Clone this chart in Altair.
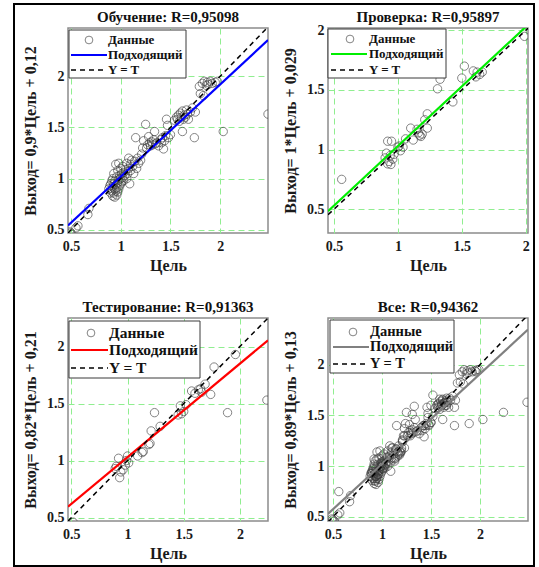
import altair as alt
import pandas as pd

# ---------------- data ----------------
train_t = [0.49, 0.50, 0.55, 0.57, 0.67, 0.68,
           0.88, 0.89, 0.90, 0.90, 0.91, 0.91, 0.92, 0.92, 0.92, 0.93, 0.93, 0.93, 0.94, 0.94,
           0.94, 0.95, 0.95, 0.95, 0.96, 0.96, 0.96, 0.97, 0.97, 0.97, 0.98, 0.98, 0.98, 0.99,
           0.99, 1.00, 1.00, 1.00, 1.01, 1.01, 1.02, 1.02, 1.03, 1.03, 1.04, 1.05,
           1.06, 1.06, 1.07, 1.08, 1.08, 1.09, 1.10, 1.10, 1.11, 1.12, 1.13, 1.14, 1.15, 1.16,
           1.17, 1.18, 1.20, 1.21, 1.22, 1.23,
           1.25, 1.26, 1.27, 1.28, 1.29, 1.30, 1.31, 1.32, 1.33, 1.34, 1.35, 1.36, 1.38, 1.40,
           1.41, 1.42, 1.43, 1.44, 1.45, 1.46, 1.47, 1.48, 1.50,
           1.54, 1.56, 1.57, 1.58, 1.59, 1.60, 1.61, 1.62, 1.62, 1.63, 1.64, 1.65, 1.66, 1.67,
           1.68, 1.70, 1.72, 1.74, 1.75,
           1.79, 1.80, 1.82, 1.83, 1.84, 1.86, 1.87, 1.88, 1.90, 1.92, 1.95, 1.97,
           2.03, 2.48]
train_y = [0.48, 0.47, 0.52, 0.54, 0.65, 0.71,
           0.90, 0.93, 0.86, 0.95, 0.88, 0.98, 0.83, 0.92, 1.00, 0.86, 0.95, 1.05, 0.82, 0.90,
           0.98, 0.88, 0.94, 1.14, 0.84, 0.91, 1.02, 0.87, 0.96, 1.08, 0.90, 0.99, 1.15, 0.93,
           1.03, 0.95, 1.00, 1.10, 0.97, 1.05, 1.01, 1.12, 0.98, 1.06, 1.03, 1.09,
           1.00, 1.15, 1.05, 1.10, 1.20, 0.95, 1.08, 1.14, 1.18, 1.12, 1.05, 1.17, 1.40, 1.10,
           1.20, 1.15, 1.18, 1.24, 1.30, 1.37,
           1.53, 1.30, 1.33, 1.41, 1.35, 1.32, 1.36, 1.33, 1.38, 1.46, 1.34, 1.35, 1.32, 1.38,
           1.35, 1.40, 1.29, 1.37, 1.42, 1.58, 1.52, 1.40, 1.43,
           1.57, 1.60, 1.58, 1.62, 1.56, 1.64, 1.60, 1.46, 1.66, 1.58, 1.62, 1.60, 1.67, 1.63,
           1.58, 1.65, 1.69, 1.40, 1.65,
           1.90, 1.83, 1.93, 1.81, 1.95, 1.91, 1.94, 1.92, 1.95, 1.93, 1.94, 1.95,
           1.46, 1.63]

val_t = [0.56, 0.90, 0.91, 0.92, 0.92, 0.93, 0.94, 0.945, 0.95, 0.96, 0.97, 1.00, 1.01, 1.02,
         1.04, 1.06, 1.10, 1.12, 1.15, 1.16, 1.17, 1.18, 1.19, 1.21, 1.23, 1.23, 1.31, 1.33,
         1.43, 1.50, 1.52, 1.59, 1.61, 1.62, 1.64, 1.66, 1.99]
val_y = [0.75, 0.93, 0.97, 1.07, 0.88, 0.90, 0.95, 0.875, 1.07, 0.92, 0.96, 1.02, 1.03, 0.99,
         1.02, 1.09, 1.18, 1.08, 1.17, 1.14, 1.12, 1.11, 1.13, 1.25, 1.30, 1.18, 1.51, 1.59,
         1.40, 1.60, 1.70, 1.66, 1.61, 1.65, 1.63, 1.65, 1.95]

test_t = [0.515, 0.89, 0.90, 0.92, 0.93, 0.94, 0.96, 0.98, 0.99, 1.00, 1.01, 1.09, 1.13, 1.14,
          1.19, 1.20, 1.21, 1.24, 1.29, 1.45, 1.47, 1.48, 1.50, 1.52, 1.57, 1.60, 1.63, 1.65,
          1.66, 1.69, 1.74, 1.77, 1.89, 1.96, 2.24]
test_y = [0.46, 0.93, 0.95, 1.02, 0.85, 0.90, 0.92, 0.96, 1.00, 1.04, 0.98, 1.04, 1.07, 1.08,
          1.14, 1.15, 1.26, 1.42, 1.30, 1.40, 1.48, 1.41, 1.43, 1.49, 1.61, 1.59, 1.62, 1.63,
          1.60, 1.67, 1.58, 1.82, 1.42, 1.93, 1.53]

all_t = train_t + val_t + test_t
all_y = train_y + val_y + test_y

TITLES = ["Обучение: R=0,95098", "Проверка: R=0,95897",
          "Тестирование: R=0,91363", "Все: R=0,94362"]
Y_TITLES = ["Выход= 0,9*Цель + 0,12", "Выход= 1*Цель + 0,029",
            "Выход= 0,82*Цель + 0,21", "Выход= 0,89*Цель + 0,13"]
X_TITLE = "Цель"
FIT_SLOPE = [0.9, 1.0, 0.82, 0.89]
FIT_INTERCEPT = [0.12, 0.029, 0.21, 0.13]
FIT_COLORS = ["#0000ff", "#00ee00", "#ff0000", "#808080"]
X_DOMAINS = [[0.47, 2.48], [0.453, 2.018], [0.47, 2.25], [0.45, 2.49]]
Y_DOMAINS = [[0.47, 2.47], [0.30, 2.02], [0.47, 2.25], [0.46, 2.46]]
TICKS = [0.5, 1, 1.5, 2]
LEGEND_LABELS = ["Данные", "Подходящий", "Y = T"]

FONT = "Liberation Serif"
ONE = alt.Data(values=[{"k": 0}])

# legend geometry per panel: box (x0, x1, y0, y1), row ys, symbol x, line x0/x1, text x, font size
LEG = [
    dict(box=(1, 118, 2, 50), rows=(12, 27, 42), sx=21, lx=(3, 39), tx=40, fs=13),
    dict(box=(0, 118, 1, 50), rows=(11, 26, 42), sx=22, lx=(3, 39), tx=41, fs=13),
    dict(box=(1, 132, 3, 60), rows=(15, 32, 50), sx=23, lx=(3, 40), tx=41, fs=15.5),
    dict(box=(2, 126, 2, 55), rows=(14, 29, 46), sx=25, lx=(5, 41), tx=42, fs=14.5),
]


def panel(i, t, y, w, h, frame=False):
    xsc = alt.Scale(domain=X_DOMAINS[i], nice=False, zero=False)
    ysc = alt.Scale(domain=Y_DOMAINS[i], nice=False, zero=False)
    xax = alt.Axis(values=TICKS, format="~g", title=X_TITLE, grid=True)
    yax = alt.Axis(values=TICKS, format="~g", title=Y_TITLES[i], grid=True)
    pts = pd.DataFrame({"t": t, "y": y})
    xs = X_DOMAINS[i]
    lines = pd.DataFrame({"t": xs,
                          "fit": [FIT_SLOPE[i] * v + FIT_INTERCEPT[i] for v in xs],
                          "yt": xs})
    points = alt.Chart(pts).mark_point(shape="circle", filled=False, size=70,
                                       color="#3c3c3c", strokeWidth=0.9,
                                       clip=True).encode(
        x=alt.X("t:Q", scale=xsc, axis=xax),
        y=alt.Y("y:Q", scale=ysc, axis=yax))
    fit = alt.Chart(lines).mark_line(color=FIT_COLORS[i], strokeWidth=2.2, clip=True).encode(
        x=alt.X("t:Q", scale=xsc, axis=xax),
        y=alt.Y("fit:Q", scale=ysc, axis=yax))
    ident = alt.Chart(lines).mark_line(color="black", strokeDash=[5, 4], strokeWidth=1.5,
                                       clip=True).encode(
        x=alt.X("t:Q", scale=xsc, axis=xax),
        y=alt.Y("yt:Q", scale=ysc, axis=yax))

    g = LEG[i]
    x0, x1, y0, y1 = g["box"]
    r = g["rows"]
    box = alt.Chart(ONE).mark_rect(fill="white", stroke="#3a3a3a", strokeWidth=1).encode(
        x=alt.value(x0), x2=alt.value(x1), y=alt.value(y0), y2=alt.value(y1))
    sym = alt.Chart(ONE).mark_point(shape="circle", filled=False, size=60, color="#3c3c3c",
                                    strokeWidth=0.9).encode(
        x=alt.value(g["sx"]), y=alt.value(r[0]))
    lfit = alt.Chart(ONE).mark_rule(color=FIT_COLORS[i], strokeWidth=2.2).encode(
        x=alt.value(g["lx"][0]), x2=alt.value(g["lx"][1]), y=alt.value(r[1]))
    lid = alt.Chart(ONE).mark_rule(color="black", strokeWidth=1.5, strokeDash=[5, 4]).encode(
        x=alt.value(g["lx"][0]), x2=alt.value(g["lx"][1]), y=alt.value(r[2]))
    texts = [alt.Chart(ONE).mark_text(text=LEGEND_LABELS[k], font=FONT, fontWeight="bold",
                                      fontSize=g["fs"], align="left", baseline="middle",
                                      color="#111111").encode(
        x=alt.value(g["tx"]), y=alt.value(r[k])) for k in range(3)]
    title = alt.Chart(ONE).mark_text(text=TITLES[i], font=FONT, fontWeight="bold",
                                     fontSize=15, align="center", baseline="alphabetic",
                                     color="#111111").encode(
        x=alt.value(w / 2), y=alt.value(-6))

    layers = [points, fit, ident, box, sym, lfit, lid] + texts + [title]
    if frame:
        fr = alt.Chart(ONE).mark_rect(fillOpacity=0, stroke="black", strokeWidth=2).encode(
            x=alt.value(-54), x2=alt.value(466), y=alt.value(-24), y2=alt.value(538))
        layers = [fr] + layers
    return alt.layer(*layers).properties(width=w, height=h)


p1 = panel(0, train_t, train_y, 200, 205, frame=True)
p2 = panel(1, val_t, val_y, 200, 205)
p3 = panel(2, test_t, test_y, 200, 203)
p4 = panel(3, all_t, all_y, 200, 203)

chart = alt.concat(p1, p2, p3, p4, columns=2,
                   spacing=alt.RowColnumber(row=85, column=60),
                   bounds="flush").properties(
    padding={"left": 12, "top": 2, "right": 0, "bottom": 0},
    background="white"
).configure_view(
    stroke="#8c8c8c", strokeWidth=1.5
).configure_axis(
    labelFont=FONT, labelFontWeight="bold", labelFontSize=14, labelColor="#1a1a1a",
    titleFont=FONT, titleFontWeight="bold", titleFontSize=16, titleColor="#1a1a1a",
    gridColor="#90ee90", gridDash=[6, 4], gridWidth=1, gridOpacity=1,
    domain=False, ticks=False
).configure_axisX(
    labelPadding=6, titlePadding=4
).configure_axisY(
    labelPadding=4, titlePadding=8
)

chart.save("out.html", embed_options={"renderer": "svg", "actions": False})
